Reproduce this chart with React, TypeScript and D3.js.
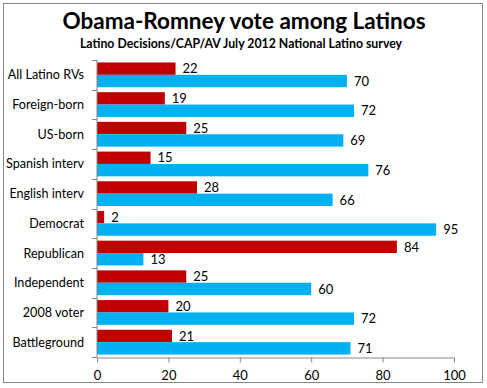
import React, { useEffect, useRef } from "react";
import * as d3 from "d3";

const categories = [
  "All Latino RVs",
  "Foreign-born",
  "US-born",
  "Spanish interv",
  "English interv",
  "Democrat",
  "Republican",
  "Independent",
  "2008 voter",
  "Battleground",
];
const romney = [22, 19, 25, 15, 28, 2, 84, 25, 20, 21];
const obama = [70, 72, 69, 76, 66, 95, 13, 60, 72, 71];
const xTicks = [0, 20, 40, 60, 80, 100];

const FONT = "Lato, 'Open Sans', sans-serif";

const App = () => {
  const ref = useRef<SVGSVGElement | null>(null);

  useEffect(() => {
    if (!ref.current) return;
    const svg = d3.select(ref.current);
    svg.selectAll("*").remove();
    const width = 487;
    const height = 388;
    const margin = { top: 60, right: 33, bottom: 31, left: 97 };

    svg.attr("width", width).attr("height", height);

    // chart border
    svg
      .append("rect")
      .attr("x", 3.5)
      .attr("y", 3.5)
      .attr("width", 479)
      .attr("height", 379)
      .attr("fill", "white")
      .attr("stroke", "#868686")
      .attr("stroke-width", 1);

    svg
      .append("text")
      .attr("x", 244)
      .attr("y", 29)
      .attr("text-anchor", "middle")
      .attr("font-family", FONT)
      .attr("font-weight", "bold")
      .attr("font-size", 22.5)
      .text("Obama-Romney vote among Latinos");

    svg
      .append("text")
      .attr("x", 241)
      .attr("y", 48)
      .attr("text-anchor", "middle")
      .attr("font-family", FONT)
      .attr("font-weight", "bold")
      .attr("font-size", 12.3)
      .text("Latino Decisions/CAP/AV July 2012 National Latino survey");

    const x = d3
      .scaleLinear()
      .domain([0, 100])
      .range([margin.left, width - margin.right]);

    const y = d3
      .scaleBand()
      .domain(categories)
      .range([margin.top, height - margin.bottom]);

    const inner = d3
      .scaleBand()
      .domain(["romney", "obama"])
      .range([0, y.bandwidth()])
      .paddingInner(0)
      .paddingOuter(0.2);

    const data = categories.map((c, i) => ({ cat: c, romney: romney[i], obama: obama[i] }));
    const series = [
      { key: "romney", color: "#C00000" },
      { key: "obama", color: "#00B0F0" },
    ];

    series.forEach((s) => {
      const g = svg.append("g");
      g.selectAll("rect")
        .data(data)
        .join("rect")
        .attr("x", x(0))
        .attr("y", (d) => (y(d.cat) as number) + (inner(s.key) as number))
        .attr("width", (d) => x((d as any)[s.key]) - x(0))
        .attr("height", inner.bandwidth())
        .attr("fill", s.color);
      g.selectAll("text")
        .data(data)
        .join("text")
        .attr("x", (d) => x((d as any)[s.key]) + 7)
        .attr("y", (d) => (y(d.cat) as number) + (inner(s.key) as number) + inner.bandwidth() / 2)
        .attr("dy", "0.36em")
        .attr("font-family", FONT)
        .attr("font-size", 13)
        .attr("fill", "#000")
        .text((d) => (d as any)[s.key]);
    });

    // y axis
    const yAxis = svg
      .append("g")
      .attr("transform", `translate(${margin.left},0)`);
    yAxis
      .append("line")
      .attr("x1", 0)
      .attr("x2", 0)
      .attr("y1", margin.top)
      .attr("y2", height - margin.bottom)
      .attr("stroke", "#868686");
    const bounds = categories.map((c) => y(c) as number).concat([height - margin.bottom]);
    yAxis
      .selectAll("line.tick")
      .data(bounds)
      .join("line")
      .attr("class", "tick")
      .attr("x1", -5)
      .attr("x2", 0)
      .attr("y1", (d) => Math.round(d) + 0.5)
      .attr("y2", (d) => Math.round(d) + 0.5)
      .attr("stroke", "#868686");
    yAxis
      .selectAll("text")
      .data(categories)
      .join("text")
      .attr("x", -13)
      .attr("y", (d) => (y(d) as number) + y.bandwidth() / 2)
      .attr("dy", "0.36em")
      .attr("text-anchor", "end")
      .attr("font-family", FONT)
      .attr("font-size", 12.6)
      .text((d) => d);

    // x axis
    const xAxis = svg
      .append("g")
      .attr("transform", `translate(0,${height - margin.bottom + 0.5})`)
      .call(d3.axisBottom(x).tickValues(xTicks).tickSize(5).tickPadding(8).tickSizeOuter(0));
    xAxis.select(".domain").attr("stroke", "#868686");
    xAxis.selectAll(".tick line").attr("stroke", "#868686");
    xAxis
      .selectAll(".tick text")
      .attr("font-family", FONT)
      .attr("font-size", 13)
      .attr("fill", "#000");
  }, []);

  return <svg ref={ref} style={{ position: "absolute", left: 0, top: 0 }}></svg>;
};

export default App;
